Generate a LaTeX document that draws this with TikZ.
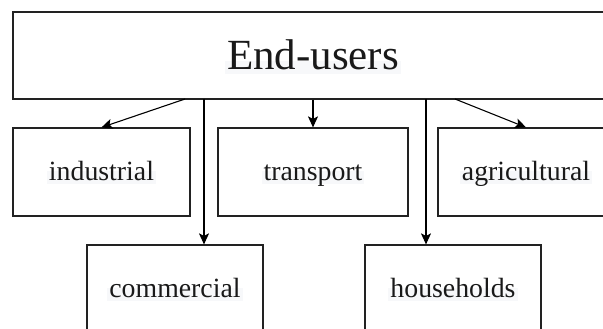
\documentclass[tikz,border=0pt]{standalone}
\usepackage{fontspec}
\setmainfont{Liberation Serif}
\usetikzlibrary{arrows.meta}
\definecolor{textbg}{HTML}{F7F8FA}
\definecolor{edge}{HTML}{222222}
\begin{document}
\begin{tikzpicture}[x=1pt,y=-1pt,
  box/.style={draw=edge, line width=1.2pt, inner sep=0pt,
              minimum width=176pt, minimum height=88pt},
  lbl/.style={fill=textbg, inner sep=2pt, text=black!90, anchor=base,
              text height=0.7em, text depth=0.22em,
              font=\fontsize{27.8}{30}\selectfont},
  biglbl/.style={lbl, font=\fontsize{43}{46}\selectfont},
  link/.style={draw=black, line width=1.1pt,
               -{Stealth[length=11pt,width=10pt,inset=2.5pt]}}]
\useasboundingbox (0,0) rectangle (603,329);
\clip (0,0) rectangle (603,329);
\fill[white] (0,0) rectangle (603,329);

% root box
\node[box, minimum width=600pt, minimum height=87pt] (top) at (313,55.5) {};
\node[biglbl] (topLabel) at (313,70) {End-users};

% first row
\node[box, minimum width=177pt] (industrial) at (101.5,172) {};
\node[lbl] (industrialLabel) at (101.5,180) {industrial};
\node[box, minimum width=190pt] (transport) at (313,172) {};
\node[lbl] (transportLabel) at (313,180) {transport};
\node[box] (agricultural) at (526,172) {};
\node[lbl] (agriculturalLabel) at (526,180) {agricultural};

% second row
\node[box] (commercial) at (175,289) {};
\node[lbl] (commercialLabel) at (175,297) {commercial};
\node[box] (households) at (453,289) {};
\node[lbl] (householdsLabel) at (453,297) {households};

% exits on the bottom of the root box
\coordinate (outInd) at (185,99);
\coordinate (outCom) at (204,99);
\coordinate (outHou) at (426,99);
\coordinate (outAgr) at (455,99);

\draw[link] (outInd) -- (industrial.north);
\draw[link] (outCom) -- (outCom |- commercial.north);
\draw[link] (top.south) -- (transport.north);
\draw[link] (outHou) -- (outHou |- households.north);
\draw[link] (outAgr) -- (agricultural.north);
\end{tikzpicture}
\end{document}
